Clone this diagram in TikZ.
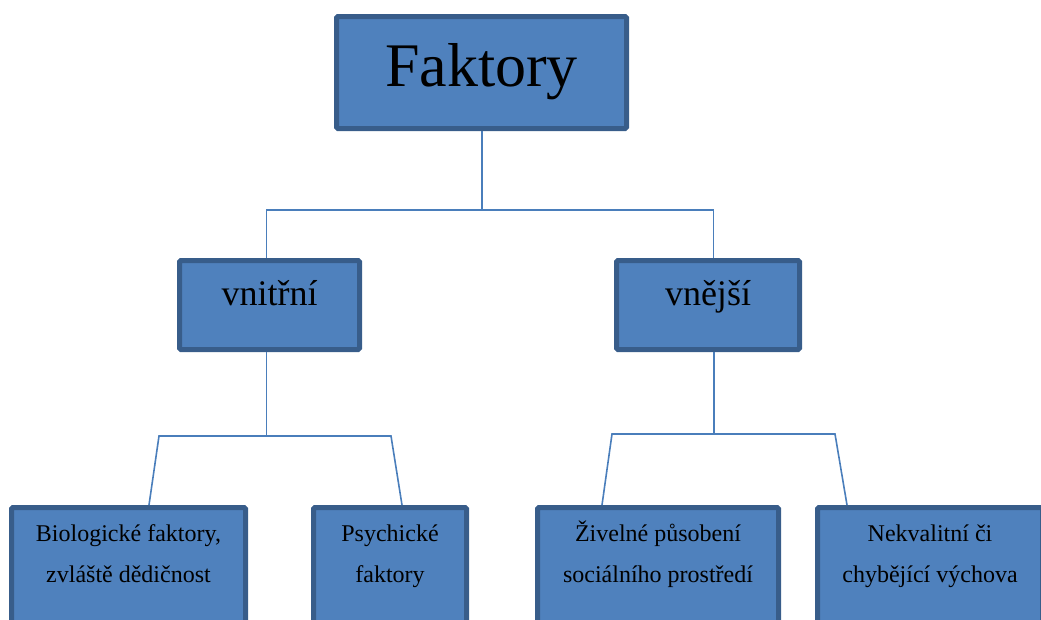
\documentclass[tikz,border=0pt]{standalone}
\usepackage{fontspec}
\setmainfont{Liberation Serif}
\definecolor{boxfill}{HTML}{4F81BD}
\definecolor{boxline}{HTML}{385D8A}
\definecolor{connline}{HTML}{4A7EBB}
\tikzset{
  box/.style={draw=boxline, fill=boxfill, line width=5pt, rounded corners=1.5pt, inner sep=0pt},
  conn/.style={draw=connline, line width=1.6pt},
  txt/.style={inner sep=0pt, anchor=base, text=black},
  btxt/.style={txt, align=center, font=\fontsize{24}{41}\selectfont}
}
\begin{document}
\begin{tikzpicture}[x=1pt,y=-1pt]
\useasboundingbox (0,0) rectangle (1041,619);
\clip (0,0) rectangle (1041,619);
% boxes
\node[box, minimum width=290pt, minimum height=112pt] (top) at (481.5,72.5) {};
\node[box, minimum width=180pt, minimum height=89pt] (vn) at (269.5,305) {};
\node[box, minimum width=183pt, minimum height=89pt] (ve) at (708,305) {};
\node[box, minimum width=234pt, minimum height=150pt] (b1) at (128.5,582.5) {};
\node[box, minimum width=153pt, minimum height=150pt] (b2) at (390,582.5) {};
\node[box, minimum width=241pt, minimum height=150pt] (b3) at (658,582.5) {};
\node[box, minimum width=225pt, minimum height=150pt] (b4) at (930,582.5) {};
% texts
\node[txt, font=\rmfamily\fontsize{62}{70}\selectfont] (toptxt) at (481.5,86) {Faktory};
\node[txt, font=\rmfamily\fontsize{36}{40}\selectfont] (vntxt) at (269.5,305) {vnitřní};
\node[txt, font=\rmfamily\fontsize{36}{40}\selectfont] (vetxt) at (708,305) {vnější};
\node[btxt] (b1txt) at (128.5,582) {Biologické faktory,\\zvláště dědičnost};
\node[btxt] (b2txt) at (390,582) {Psychické\\faktory};
\node[btxt] (b3txt) at (658,582) {Živelné působení\\sociálního prostředí};
\node[btxt] (b4txt) at (930,582) {Nekvalitní či\\chybějící výchova};
% junction coordinates
\coordinate (j0) at (482,210);
\coordinate (j1) at (266.5,436);
\coordinate (k1) at (159,436);
\coordinate (k2) at (391,436);
\coordinate (j2) at (714,434);
\coordinate (k3) at (612,434);
\coordinate (k4) at (835,434);
% connectors
\draw[conn] ([xshift=0.5pt]top.south) -- (j0);
\draw[conn] ([xshift=-3pt]vn.north) |- (j0) -| ([xshift=5.5pt]ve.north);
\draw[conn] ([xshift=-3pt]vn.south) -- (j1);
\draw[conn] ([xshift=20.5pt]b1.north) -- (k1) -- (k2) -- ([xshift=12pt]b2.north);
\draw[conn] ([xshift=6pt]ve.south) -- (j2);
\draw[conn] ([xshift=-56pt]b3.north) -- (k3) -- (k4) -- ([xshift=-83pt]b4.north);
\end{tikzpicture}
\end{document}
